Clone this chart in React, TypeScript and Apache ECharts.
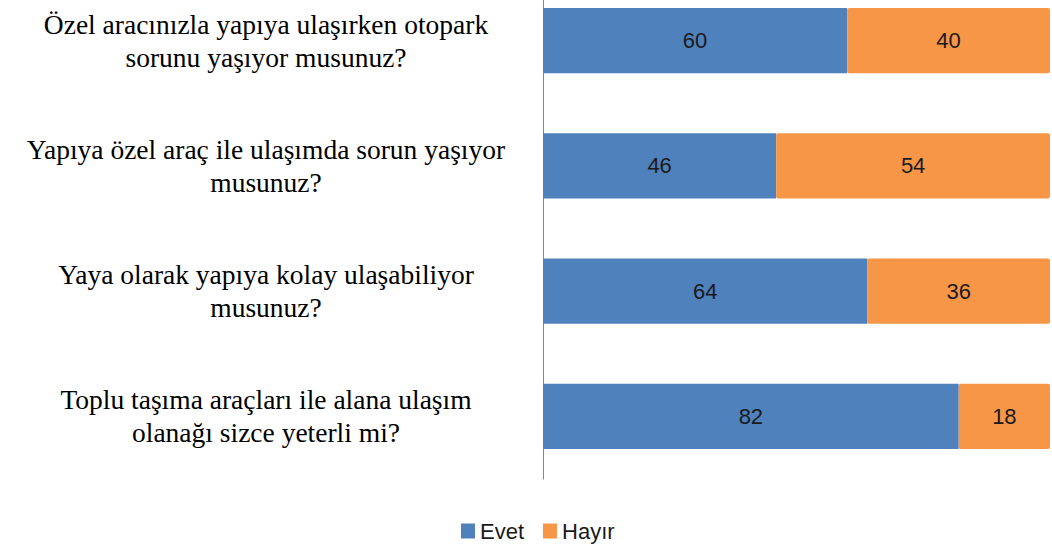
import React, { useEffect, useRef } from "react";
import * as echarts from "echarts";

const categories = [
  "Özel aracınızla yapıya ulaşırken otopark\nsorunu yaşıyor musunuz?",
  "Yapıya özel araç ile ulaşımda sorun yaşıyor\nmusunuz?",
  "Yaya olarak yapıya kolay ulaşabiliyor\nmusunuz?",
  "Toplu taşıma araçları ile alana ulaşım\nolanağı sizce yeterli mi?",
];
const evet = [60, 46, 64, 82];
const hayir = [40, 54, 36, 18];
const seriesNames = ["Evet", "Hayır"];

export default function App() {
  const ref = useRef<HTMLDivElement>(null);
  useEffect(() => {
    if (!ref.current) return;
    const chart = echarts.init(ref.current, null, { renderer: "svg" });
    const labelStyle = {
      show: true,
      position: "inside" as const,
      fontFamily: "'Liberation Sans', Arial, sans-serif",
      fontSize: 22,
      color: "#1a1a1a",
    };
    chart.setOption({
      animation: false,
      backgroundColor: "#ffffff",
      grid: { left: 543, right: 2, top: 0, bottom: 65, containLabel: false },
      xAxis: {
        type: "value",
        min: 0,
        max: 100,
        show: false,
      },
      yAxis: {
        type: "category",
        inverse: true,
        data: categories,
        axisLine: { show: true, lineStyle: { color: "#868686", width: 1 } },
        axisTick: { show: false },
        axisLabel: {
          fontFamily: "'Liberation Serif', 'Times New Roman', serif",
          fontSize: 27.5,
          lineHeight: 33,
          color: "#000000",
          align: "center",
          margin: 277,
        },
      },
      legend: {
        top: 542,
        left: 461,
        padding: 0,
        itemWidth: 14,
        itemHeight: 15,
        itemGap: 19,
        icon: "rect",
        textStyle: { fontFamily: "'Liberation Sans', Arial, sans-serif", fontSize: 22, color: "#1a1a1a" },
        data: seriesNames,
      },
      series: [
        {
          name: seriesNames[0],
          type: "bar",
          stack: "total",
          barCategoryGap: "48%",
          data: evet,
          itemStyle: { color: "#4F81BD" },
          label: labelStyle,
        },
        {
          name: seriesNames[1],
          type: "bar",
          stack: "total",
          barCategoryGap: "48%",
          data: hayir,
          itemStyle: { color: "#F79646", borderRadius: 2 },
          label: labelStyle,
        },
      ],
    });
    return () => chart.dispose();
  }, []);
  return (
    <div style={{ position: "fixed", left: 0, top: 0, width: 1052, height: 544, overflow: "hidden" }}>
      <div
        ref={ref}
        style={{ position: "absolute", left: 0, top: -22, width: 1052, height: 566 }}
      />
    </div>
  );
}
